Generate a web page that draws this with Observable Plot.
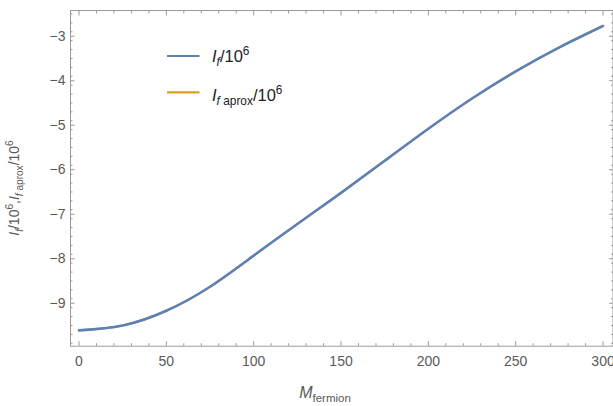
<!DOCTYPE html>
<html>
<head>
<meta charset="utf-8">
<script src="https://cdn.jsdelivr.net/npm/d3@7"></script>
<script src="https://cdn.jsdelivr.net/npm/@observablehq/plot@0.6"></script>
<style>
  html, body { margin: 0; padding: 0; background: #fff; }
  #chart { width: 613px; height: 406px; }
  svg { font-family: "Liberation Sans", Arial, sans-serif; }
</style>
</head>
<body>
<div id="chart"></div>
<script>
// Data
const mFermion = [0, 25, 50, 75, 100, 125, 150, 175, 200, 225, 250, 275, 300];
const ifScaled = [-9.61, -9.50, -9.17, -8.63, -7.93, -7.22, -6.52, -5.80, -5.08, -4.40, -3.79, -3.25, -2.77];
const ifAproxScaled = [-9.61, -9.50, -9.17, -8.63, -7.93, -7.22, -6.52, -5.80, -5.08, -4.40, -3.79, -3.25, -2.77];
const xMajorTicks = [0, 50, 100, 150, 200, 250, 300];
const yMajorTicks = [-9, -8, -7, -6, -5, -4, -3];
const seriesNames = ["If", "Ifaprox"];
const seriesColors = ["#5E81B5", "#E19C24"];

const dataIf = mFermion.map((m, i) => ({m, v: ifScaled[i]}));
const dataAprox = mFermion.map((m, i) => ({m, v: ifAproxScaled[i]}));
const xMinor = d3.range(0, 301, 10).filter(t => t % 50 !== 0);
const yMinor = d3.range(-99, -23, 2).map(t => t / 10).filter(t => !Number.isInteger(t));

const frameColor = "#9a9a9a";
const labelColor = "#5a5a5a";

const plot = Plot.plot({
  width: 613,
  height: 406,
  marginTop: 10,
  marginBottom: 60.3,
  marginLeft: 70,
  marginRight: 0.5,
  style: {fontFamily: "'Liberation Sans', Arial, sans-serif", background: "#fff"},
  x: {domain: [-4.87, 305.7]},
  y: {domain: [-9.966, -2.422]},
  marks: [
    Plot.frame({stroke: frameColor}),
    // bottom axis labels
    Plot.axisX({anchor: "bottom", ticks: xMajorTicks, tickSize: 0, tickPadding: 10, fontSize: 14, color: labelColor, label: null}),
    Plot.axisX({anchor: "bottom", ticks: xMajorTicks, tickSize: -4.5, tickFormat: () => "", stroke: frameColor, label: null}),
    Plot.axisX({anchor: "bottom", ticks: xMinor, tickSize: -2.5, tickFormat: () => "", stroke: frameColor, label: null}),
    Plot.axisX({anchor: "top", ticks: xMajorTicks, tickSize: -4.5, tickFormat: () => "", stroke: frameColor, label: null}),
    Plot.axisX({anchor: "top", ticks: xMinor, tickSize: -2.5, tickFormat: () => "", stroke: frameColor, label: null}),
    // left axis
    Plot.axisY({anchor: "left", ticks: yMajorTicks, tickSize: 0, tickPadding: 5, fontSize: 14, color: labelColor, label: null}),
    Plot.axisY({anchor: "left", ticks: yMajorTicks, tickSize: -4.5, tickFormat: () => "", stroke: frameColor, label: null}),
    Plot.axisY({anchor: "left", ticks: yMinor, tickSize: -2.5, tickFormat: () => "", stroke: frameColor, label: null}),
    Plot.axisY({anchor: "right", ticks: yMajorTicks, tickSize: -4.5, tickFormat: () => "", stroke: frameColor, label: null}),
    Plot.axisY({anchor: "right", ticks: yMinor, tickSize: -2.5, tickFormat: () => "", stroke: frameColor, label: null}),
    Plot.line(dataAprox, {x: "m", y: "v", stroke: seriesColors[1], strokeWidth: 2, curve: "natural"}),
    Plot.line(dataIf, {x: "m", y: "v", stroke: seriesColors[0], strokeWidth: 2.6, curve: "natural"})
  ]
});
document.getElementById("chart").appendChild(plot);

const svg = d3.select(plot);

// helper: rich text with tspans
function rich(g, parts, size) {
  let shift = 0;
  parts.forEach(p => {
    const t = g.append("tspan").text(p.t);
    const fs = p.sub || p.sup ? size * 0.72 : size;
    t.attr("font-size", fs);
    if (p.i) t.attr("font-style", "italic");
    const target = p.sub ? size * 0.28 : p.sup ? -size * 0.4 : 0;
    const dy = target - shift;
    if (dy !== 0) t.attr("dy", dy);
    shift = target;
  });
}

// x axis label
const xl = svg.append("text").attr("x", 325).attr("y", 398).attr("text-anchor", "middle").attr("fill", labelColor);
rich(xl, [{t: "M", i: true}, {t: "fermion", sub: true}], 16);

// y axis label
const yl = svg.append("text").attr("transform", "translate(19,188) rotate(-90)").attr("text-anchor", "middle").attr("fill", labelColor);
rich(yl, [{t: "I", i: true}, {t: "f", i: true, sub: true}, {t: "/10"}, {t: "6", sup: true}, {t: ","}, {t: "I", i: true}, {t: "f", i: true, sub: true}, {t: " aprox", sub: true}, {t: "/10"}, {t: "6", sup: true}], 14);

// legend
const leg = svg.append("g");
const legY = [56, 92.3];
const legBase = [61.7, 100.7];
leg.selectAll("line").data(seriesColors).join("line")
  .attr("x1", 167).attr("x2", 199.5)
  .attr("y1", (d, i) => legY[i]).attr("y2", (d, i) => legY[i])
  .attr("stroke", d => d).attr("stroke-width", 2.2);
const lt1 = leg.append("text").attr("x", 212).attr("y", legBase[0]).attr("text-anchor", "start").attr("fill", "#222");
rich(lt1, [{t: "I", i: true}, {t: "f", i: true, sub: true}, {t: "/10"}, {t: "6", sup: true}], 16.5);
const lt2 = leg.append("text").attr("x", 212).attr("y", legBase[1]).attr("text-anchor", "start").attr("fill", "#222");
rich(lt2, [{t: "I", i: true}, {t: "f", i: true, sub: true}, {t: " aprox", sub: true}, {t: "/10"}, {t: "6", sup: true}], 16.5);
</script>
</body>
</html>
